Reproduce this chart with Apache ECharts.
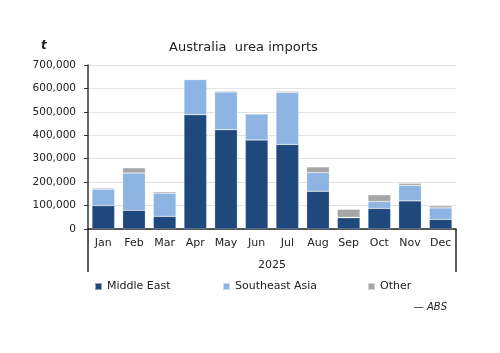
<!DOCTYPE html>
<html><head><meta charset="utf-8">
<script src="https://cdn.jsdelivr.net/npm/echarts@6/dist/echarts.min.js"></script>
<style>html,body{margin:0;padding:0;background:#fff}#c{width:500px;height:353px}</style>
</head><body><div id="c"></div>
<script>
const months = ['Jan','Feb','Mar','Apr','May','Jun','Jul','Aug','Sep','Oct','Nov','Dec'];
const yearLabel = ['2025'];
const middleEast = [100000, 80000, 54000, 488000, 424000, 380000, 361000, 161000, 48000, 88000, 120000, 41000];
const southeastAsia = [70000, 159000, 99000, 150000, 161000, 111000, 222000, 79000, 2000, 29000, 66000, 49000];
const other = [5000, 22000, 6000, 2000, 4000, 2000, 5000, 25000, 34000, 29000, 9000, 9000];
const seriesNames = ['Middle East','Southeast Asia','Other'];
const colors = ['#1f497d','#8db4e2','#a6a6a6'];

const FONT = 'DejaVu Sans';
const chart = echarts.init(document.getElementById('c'));
const mk = (name, data, color) => ({
  name, type:'bar', stack:'a', data, barWidth:'74%',
  itemStyle:{color, borderColor:'rgba(255,255,255,0.5)', borderWidth:0.5},
  emphasis:{disabled:true}
});
const legendAt = (name, left) => ({
  data:[name], left, top:276, itemWidth:7, itemHeight:7, icon:'rect', itemGap:4,
  textStyle:{fontFamily:FONT, fontSize:11, color:'#222'}, selectedMode:false
});
chart.setOption({
  animation:false,
  textStyle:{fontFamily:FONT},
  title:[
    {text:'Australia  urea imports', left:164, top:36, textStyle:{fontFamily:FONT, fontSize:13, fontWeight:'normal', color:'#222'}},
    {text:'t', left:36, top:35, textStyle:{fontFamily:FONT, fontSize:12, fontWeight:'bold', fontStyle:'italic', color:'#222'}},
    {text:'— ABS', right:48, top:297, textStyle:{fontFamily:FONT, fontSize:10, fontWeight:'normal', fontStyle:'italic', color:'#222'}}
  ],
  legend:[legendAt(seriesNames[0],89), legendAt(seriesNames[1],217), legendAt(seriesNames[2],362)],
  grid:{left:88, right:44, top:65, bottom:124, containLabel:false},
  xAxis:[
    {type:'category', data:months, position:'bottom',
     axisLine:{lineStyle:{color:'#222', width:1.5}}, axisTick:{show:false},
     axisLabel:{fontFamily:FONT, fontSize:11, color:'#222', margin:9}},
    {type:'category', data:yearLabel, position:'bottom', offset:0,
     axisLine:{show:false}, axisTick:{show:true, length:43, lineStyle:{color:'#222', width:1.5}},
     axisLabel:{fontFamily:FONT, fontSize:11, color:'#222', margin:31}}
  ],
  yAxis:{type:'value', min:0, max:700000, interval:100000,
    axisLine:{show:true, lineStyle:{color:'#333', width:1.5}},
    axisTick:{show:true, length:4, lineStyle:{color:'#333'}},
    splitLine:{lineStyle:{color:'#e3e3e3', width:1}},
    axisLabel:{fontFamily:FONT, fontSize:10.5, color:'#222', margin:12,
      formatter:v=>v.toLocaleString('en-US')}},
  series:[
    mk(seriesNames[0], middleEast, colors[0]),
    mk(seriesNames[1], southeastAsia, colors[1]),
    mk(seriesNames[2], other, colors[2])
  ]
});
</script></body></html>
